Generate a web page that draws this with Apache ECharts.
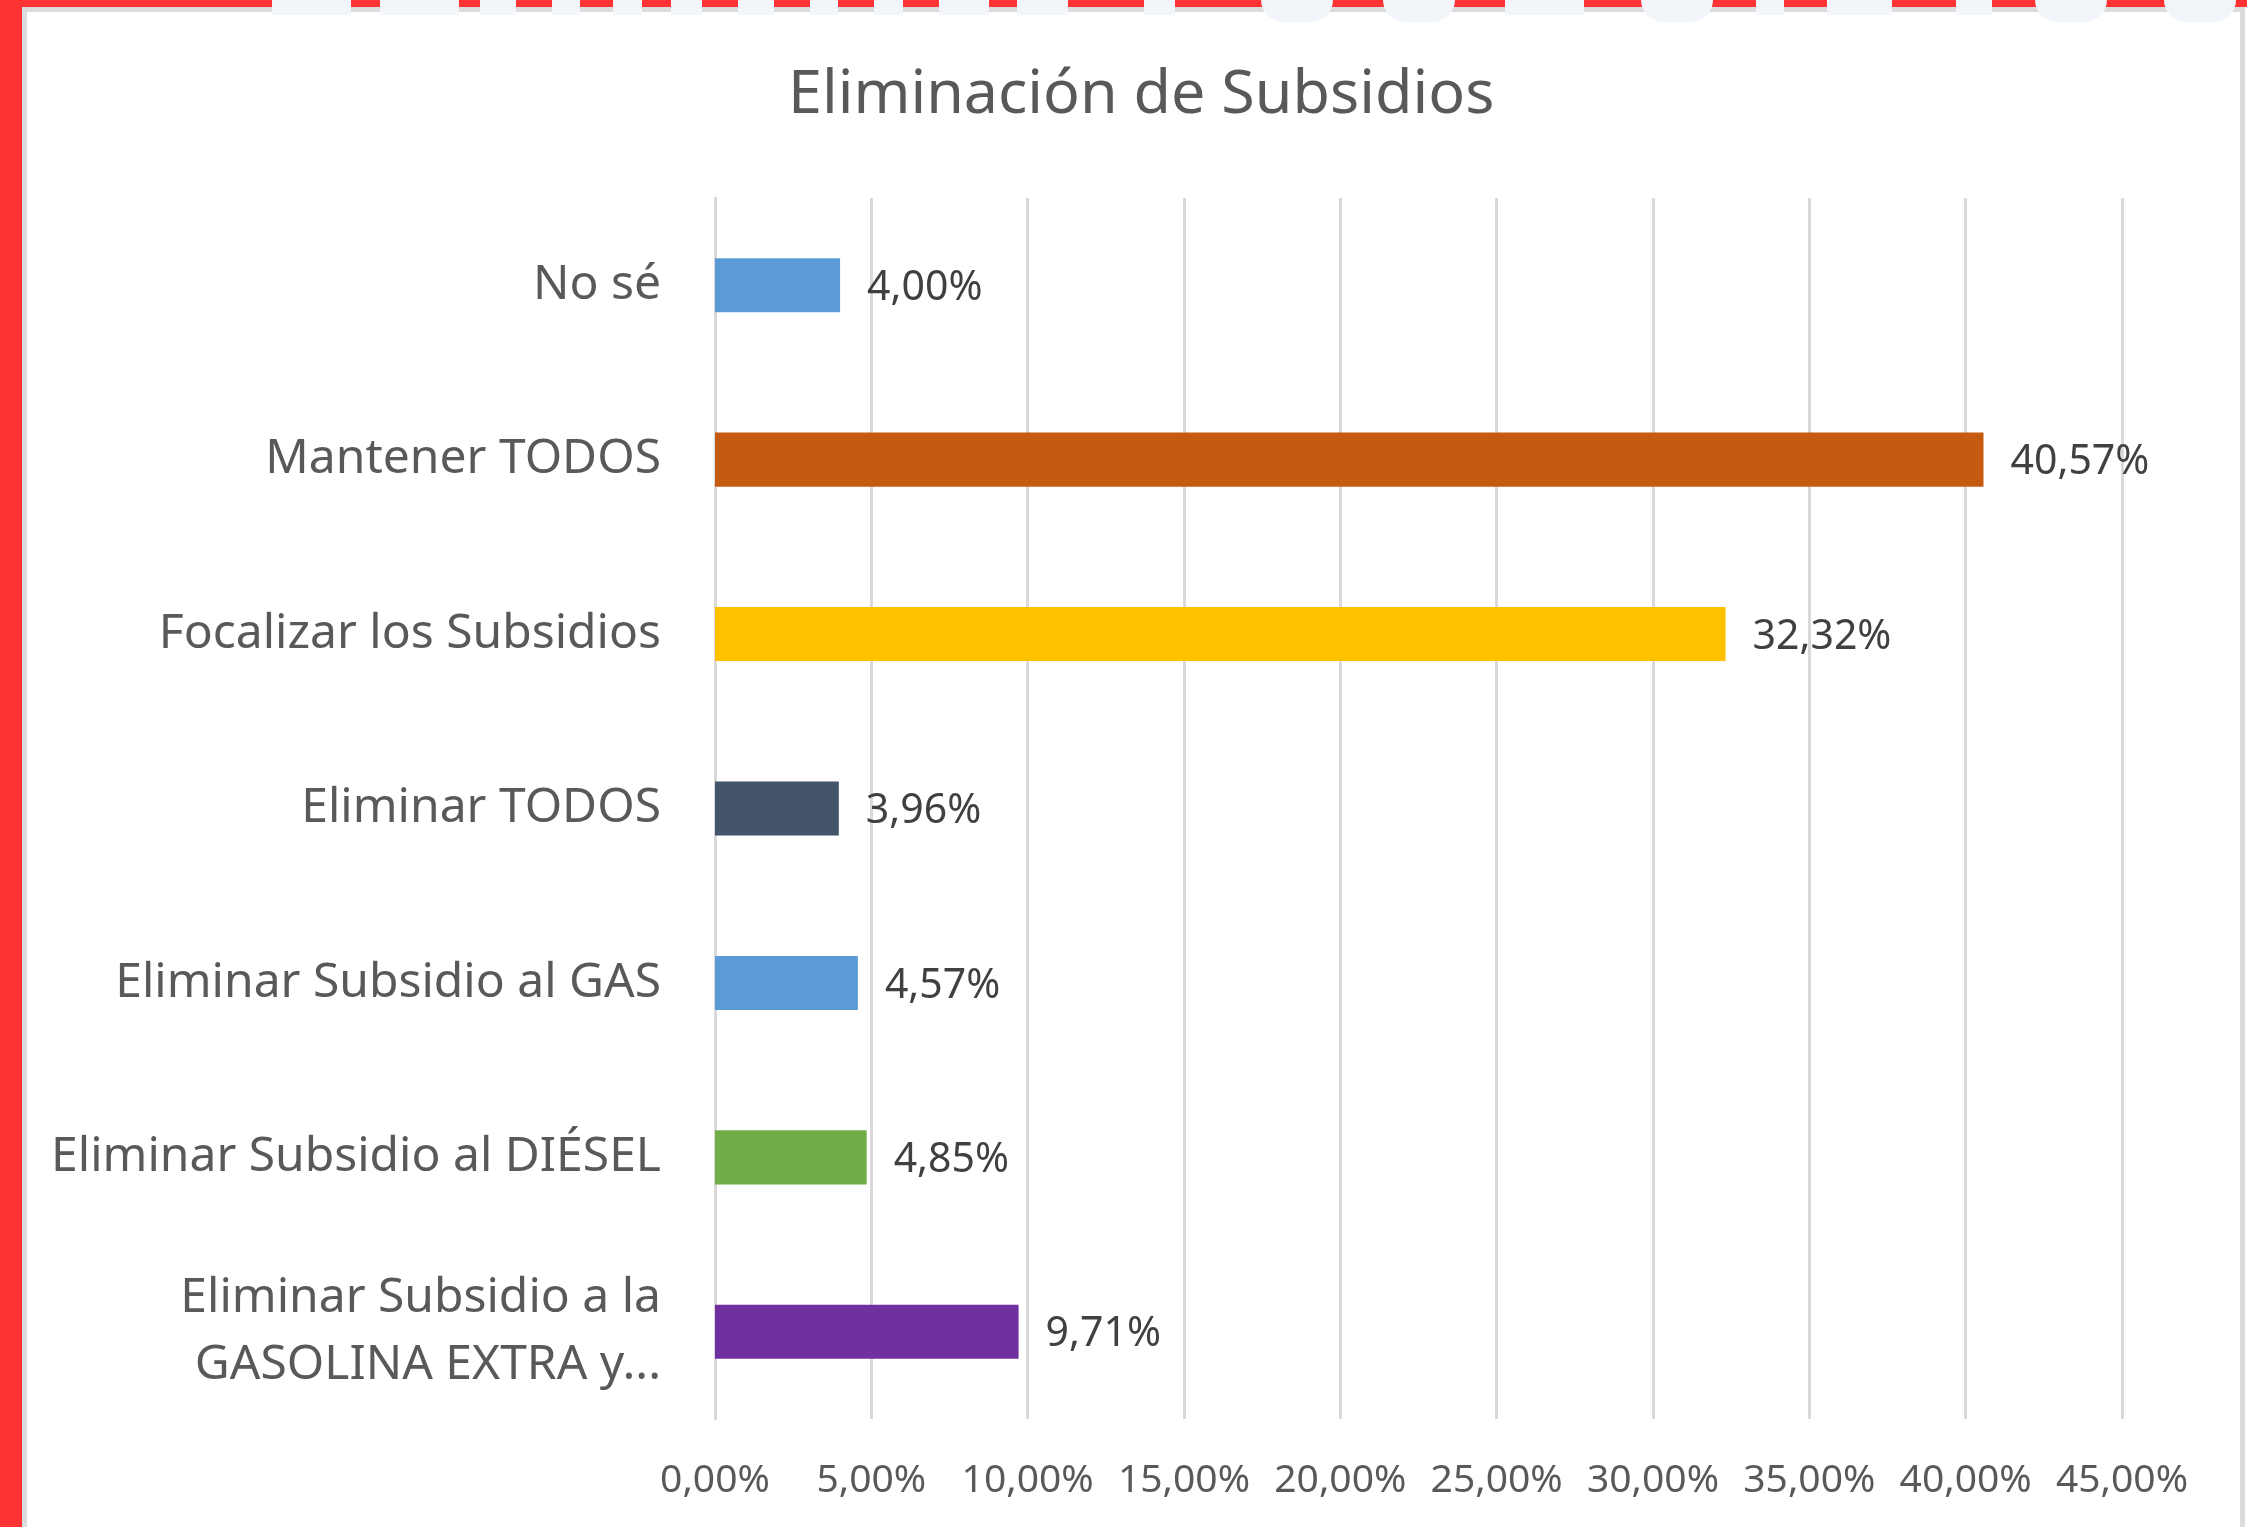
<!DOCTYPE html>
<html style="height: 100%">
<head>
    <meta charset="UTF-8">
    <script type="text/javascript" src="https://cdn.jsdelivr.net/npm/echarts@6/dist/echarts.min.js"></script>
    <style type="text/css">
        body {margin:0; padding:0; overflow:hidden; height:100%; background:#ffffff}
    </style>
</head>
<body>
    <div id="container" style="width:2247px;height:1527px"></div>
<script>
    // categories from bottom to top, like the picture
    var categories = [
        'Eliminar Subsidio a la\nGASOLINA EXTRA y...',
        'Eliminar Subsidio al DIÉSEL',
        'Eliminar Subsidio al GAS',
        'Eliminar TODOS',
        'Focalizar los Subsidios',
        'Mantener TODOS',
        'No sé'
    ];
    var values = [9.71, 4.85, 4.57, 3.96, 32.32, 40.57, 4.00];
    var barColors = ['#7030a0', '#70ad47', '#5b9bd5', '#44546a', '#ffc000', '#c55a11', '#5b9bd5'];
    var axisMin = 0, axisMax = 45, axisStep = 5;

    // pale shapes sitting on the red band at the top of the page (x from, x to, rounded?)
    var topShapes = [
        [272, 351, 0], [380, 459, 0], [480, 516, 0], [552, 580, 0], [613, 642, 0],
        [671, 702, 0], [738, 774, 0], [810, 838, 0], [874, 903, 0], [939, 989, 0],
        [1017, 1068, 0], [1144, 1175, 0], [1261, 1333, 1], [1383, 1455, 1], [1505, 1584, 0],
        [1641, 1713, 1], [1756, 1784, 0], [1827, 1892, 0], [1956, 1992, 0], [2035, 2107, 1],
        [2164, 2236, 1]
    ];

    function pct(v) {
        return v.toFixed(2).replace('.', ',') + '%';
    }

    var deco = [
        {type: 'rect', shape: {x: 0, y: 0, width: 2247, height: 7}, style: {fill: '#ff3333'}, z: 10},
        {type: 'rect', shape: {x: 0, y: 0, width: 22, height: 1527}, style: {fill: '#ff3333'}, z: 10},
        {type: 'rect', shape: {x: 22, y: 7, width: 2223, height: 5}, style: {fill: '#dcdcdc'}, z: 9},
        {type: 'rect', shape: {x: 22, y: 7, width: 5, height: 1520}, style: {fill: '#dcdcdc'}, z: 9},
        {type: 'rect', shape: {x: 2240, y: 7, width: 5, height: 1520}, style: {fill: '#dcdcdc'}, z: 9}
    ];
    topShapes.forEach(function (s) {
        var w = s[1] - s[0];
        deco.push({
            type: 'rect',
            shape: s[2] ? {x: s[0], y: -22, width: w, height: 44, r: [w / 2, w / 2, w / 2, w / 2]}
                        : {x: s[0], y: 0, width: w, height: 15},
            style: {fill: '#f2f5f9'},
            z: 11
        });
    });

    var myChart = echarts.init(document.getElementById('container'));
    var option = {
        backgroundColor: '#ffffff',
        animation: false,
        title: {
            text: 'Eliminación de Subsidios',
            left: 783,
            top: 60,
            textStyle: {
                fontFamily: 'Noto Sans',
                fontWeight: 'normal',
                fontSize: 61,
                color: '#595959'
            }
        },
        graphic: deco,
        grid: {
            left: 715,
            right: 125,
            top: 198,
            bottom: 108
        },
        xAxis: {
            type: 'value',
            min: axisMin,
            max: axisMax,
            interval: axisStep,
            axisLine: {show: false},
            axisTick: {show: false},
            splitLine: {lineStyle: {color: '#d9d9d9', width: 3}},
            axisLabel: {
                margin: 42,
                fontFamily: 'Noto Sans',
                fontSize: 39,
                color: '#595959',
                formatter: function (v) { return pct(v); }
            }
        },
        yAxis: {
            type: 'category',
            data: categories,
            axisLine: {lineStyle: {color: '#d9d9d9', width: 3}},
            axisTick: {show: false},
            axisLabel: {
                margin: 54,
                fontFamily: 'Noto Sans',
                fontSize: 48,
                lineHeight: 67,
                padding: [6, 0, 0, 0],
                color: '#595959',
                align: 'right'
            }
        },
        series: [{
            type: 'bar',
            barWidth: '31%',
            data: values.map(function (v, i) {
                return {value: v, itemStyle: {color: barColors[i]}};
            }),
            label: {
                show: true,
                position: 'right',
                distance: 27,
                offset: [0, 3],
                fontFamily: 'Noto Sans',
                fontSize: 41,
                color: '#404040',
                formatter: function (p) { return pct(p.value); }
            }
        }]
    };
    myChart.setOption(option);
</script>
</body>
</html>
